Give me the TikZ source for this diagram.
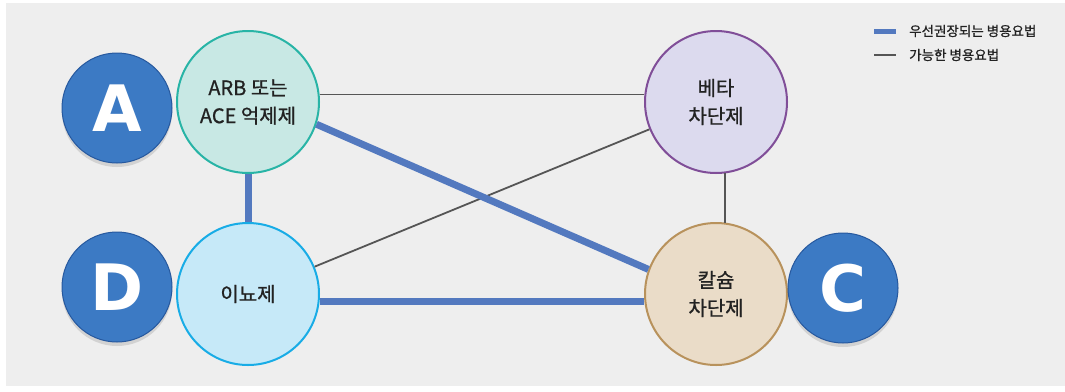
\documentclass[tikz,border=0pt]{standalone}
\usepackage{fontspec}
\setmainfont{Noto Sans CJK KR}
\newfontfamily\drugfont[FakeBold=0.8]{Noto Sans CJK KR}
\newfontfamily\ballfont{DejaVu Sans}
\usetikzlibrary{positioning,shadows}
\definecolor{bggray}{RGB}{238,238,238}
\definecolor{prefblue}{RGB}{83,121,191}
\definecolor{linegray}{RGB}{85,85,85}
\definecolor{txtdark}{RGB}{34,34,34}
\definecolor{arbfill}{RGB}{200,232,228}
\definecolor{arbedge}{RGB}{40,180,166}
\definecolor{diufill}{RGB}{198,233,248}
\definecolor{diuedge}{RGB}{24,172,230}
\definecolor{betafill}{RGB}{220,218,238}
\definecolor{betaedge}{RGB}{128,78,152}
\definecolor{cafill}{RGB}{234,220,200}
\definecolor{caedge}{RGB}{184,146,92}
\definecolor{ballblue}{RGB}{60,122,196}
\definecolor{balledge}{RGB}{38,88,158}
\tikzset{
  % 약물 원
  drug/.style={
    circle,
    draw,
    line width=2pt,
    minimum size=142pt,
    inner sep=0pt,
    align=center,
    text=txtdark,
    font=\drugfont\fontsize{20}{28}\selectfont
  },
  % 파란 공
  ball/.style={
    circle,
    minimum size=110pt,
    inner sep=0pt,
    text=white,
    fill=ballblue,
    draw=balledge,
    line width=1pt,
    drop shadow={shadow xshift=0pt, shadow yshift=-4pt, opacity=0.25},
    font=\ballfont\bfseries\fontsize{64}{64}\selectfont
  },
  % 연결선
  prefline/.style={line width=7pt, draw=prefblue},
  possline/.style={line width=1.8pt, draw=linegray},
  legtext/.style={right, text=txtdark, font=\drugfont\fontsize{13.5}{15}\selectfont, inner sep=0pt},
}

\begin{document}
\begin{tikzpicture}[x=1pt, y=-1pt]
    \useasboundingbox (0,0) rectangle (1065,391);
    \fill[bggray] (6,3) rectangle (1065,386);

    % Drugs
    \node[drug, draw=arbedge, fill=arbfill] (arb) at (248,102) {ARB 또는\\ACE 억제제};
    \node[drug, draw=betaedge, fill=betafill] (beta) at (716,102) {베타\\차단제};
    \node[drug, draw=diuedge, fill=diufill, below=48pt of arb] (diu) {이뇨제};
    \node[drug, draw=caedge, fill=cafill, below=48pt of beta] (ca) {칼슘\\차단제};

    % Possible combinations
    \draw[possline] (arb.6) -- (beta.174);
    \draw[possline] (diu) -- (beta);
    \draw[possline] (beta.-83) -- (ca.83);

    % Preferred combinations
    \draw[prefline] (arb.-18) -- (ca.160);
    \draw[prefline] (arb.south) -- (diu.north);
    \draw[prefline] (diu.-6) -- (ca.186);

    % Labels
    \node[ball] (ballA) at (117,108) {A};
    \node[ball] (ballD) at (117,287) {D};
    \node[ball] (ballC) at (843,288) {C};

    % Legend
    \coordinate (lgA) at (874,31);
    \coordinate (lgB) at (874,55);
    \draw[prefline, line width=5pt] (lgA) -- ++(22,0);
    \draw[possline, line width=2.6pt] (lgB) -- ++(22,0);
    \node[legtext] (lgpref) at (909,31) {우선권장되는 병용요법};
    \node[legtext] (lgposs) at (909,55) {가능한 병용요법};
\end{tikzpicture}
\end{document}
